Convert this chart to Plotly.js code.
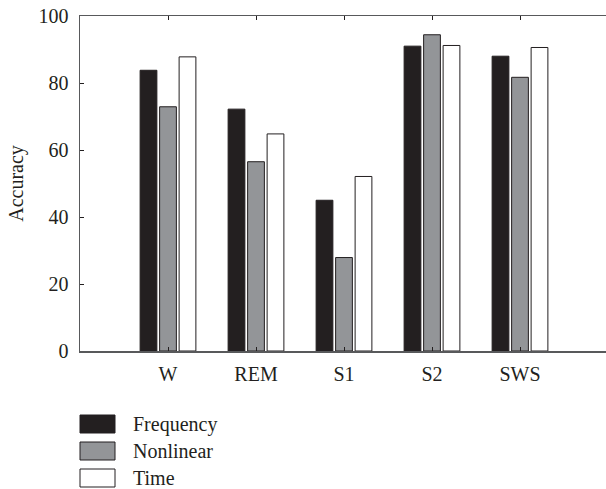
<!DOCTYPE html>
<html>
<head>
<meta charset="utf-8">
<script src="https://cdn.plot.ly/plotly-3.0.1.min.js"></script>
<style>html,body{margin:0;padding:0;background:#fff}#chart{width:606px;height:489px}</style>
</head>
<body>
<div id="chart"></div>
<script>
var categories = ["W", "REM", "S1", "S2", "SWS"];
var seriesNames = ["Frequency", "Nonlinear", "Time"];
var frequency = [83.8, 72.2, 45.0, 91.0, 88.0];
var nonlinear = [72.9, 56.5, 27.9, 94.4, 81.7];
var time = [87.8, 64.8, 52.1, 91.2, 90.6];
var yTicks = [0, 20, 40, 60, 80, 100];

var colors = ["#231f20", "#939598", "#ffffff"];
var values = [frequency, nonlinear, time];
var xPos = categories.map(function (c, i) { return i + 1; });

var W = 606, H = 489;
var mL = 80, mR = 0, mT = 16, mB = 138;
var pw = W - mL - mR, ph = H - mT - mB;
function px(x) { return (x - mL) / pw; }
function py(y) { return (H - mB - y) / ph; }

var FONT = "Liberation Serif, Times New Roman, serif";
var INK = "#231f20";

var traces = seriesNames.map(function (name, k) {
  return {
    type: "bar",
    name: name,
    x: xPos,
    y: values[k],
    marker: { color: colors[k], line: { color: INK, width: 1 } },
    showlegend: false,
    hoverinfo: "x+y"
  };
});

var shapes = [], annotations = [];
seriesNames.forEach(function (name, k) {
  var cy = 424 + k * 27;
  shapes.push({
    type: "rect", xref: "paper", yref: "paper",
    x0: px(80), x1: px(115), y0: py(cy - 9), y1: py(cy + 9),
    fillcolor: colors[k], line: { color: INK, width: 1 }
  });
  annotations.push({
    xref: "paper", yref: "paper", x: px(131), y: py(cy),
    xanchor: "left", yanchor: "middle", showarrow: false,
    text: name, font: { family: FONT, size: 20, color: INK }
  });
});

var tickFont = { family: FONT, size: 20, color: INK };
var axisCommon = {
  showgrid: false, zeroline: false,
  showline: true, linecolor: "#58595b", linewidth: 1.5,
  ticks: "inside", ticklen: 4, tickwidth: 1, tickcolor: INK,
  tickfont: tickFont
};

var layout = {
  width: W, height: H,
  margin: { l: mL, r: mR, t: mT, b: mB },
  paper_bgcolor: "#fff", plot_bgcolor: "#fff",
  barmode: "group", bargap: 0.335, bargroupgap: 0.14,
  showlegend: false,
  xaxis: Object.assign({}, axisCommon, {
    mirror: "allticks",
    range: [0, (W - mR - mL) / 88],
    tickmode: "array", tickvals: xPos, ticktext: categories,
    ticklabelstandoff: 4
  }),
  yaxis: Object.assign({}, axisCommon, {
    mirror: false,
    range: [0, 100],
    tickmode: "array", tickvals: yTicks, ticktext: yTicks.map(String),
    ticklabelstandoff: 6,
    title: { text: "Accuracy", font: { family: FONT, size: 20, color: INK }, standoff: 9 }
  }),
  yaxis2: {
    overlaying: "y", side: "right", matches: "y", range: [0, 100],
    showgrid: false, zeroline: false, showline: false,
    ticks: "inside", ticklen: 4, tickwidth: 1, tickcolor: INK,
    tickmode: "array", tickvals: yTicks, showticklabels: false
  },
  shapes: shapes,
  annotations: annotations,
  font: { family: FONT, color: INK }
};

Plotly.newPlot("chart", traces, layout, { displayModeBar: false, staticPlot: true });
</script>
</body>
</html>
